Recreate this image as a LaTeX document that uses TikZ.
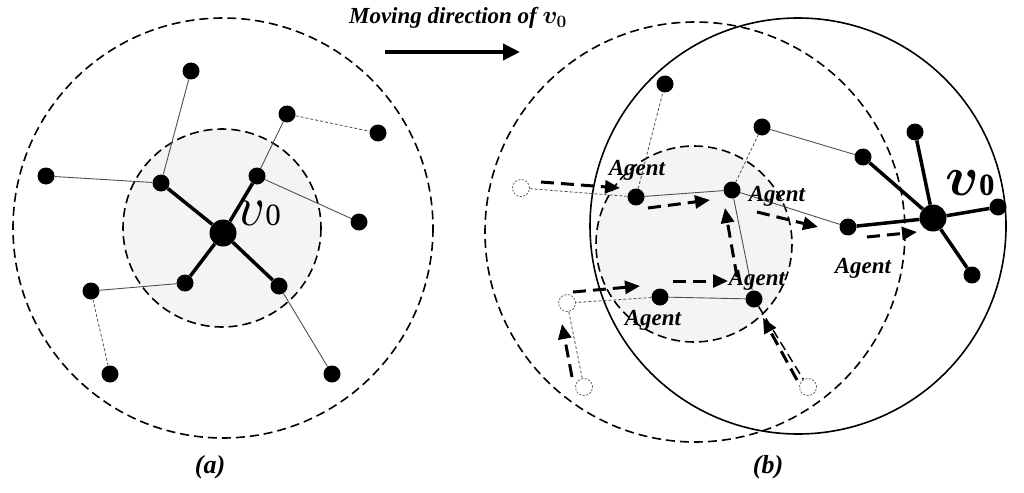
\documentclass[tikz,border=0pt]{standalone}
\usepackage{fontspec}
\setmainfont{Liberation Serif}
\usetikzlibrary{arrows.meta}
\definecolor{fillgray}{HTML}{F4F4F4}
\definecolor{edgegray}{HTML}{505050}
\begin{document}
\begin{tikzpicture}[x=1pt,y=-1pt,
  dot/.style={circle,fill=black,inner sep=0pt,minimum size=17pt},
  bigdot/.style={circle,fill=black,inner sep=0pt,minimum size=27pt},
  ghost/.style={circle,draw=edgegray,dash pattern=on 2pt off 1.5pt,line width=0.7pt,inner sep=0pt,minimum size=17pt,fill=white},
  thinedge/.style={draw=edgegray,line width=0.9pt},
  dashedge/.style={draw=edgegray,line width=0.8pt,dash pattern=on 3pt off 2pt},
  thickedge/.style={line width=3.5pt},
  rangecircle/.style={line width=1.6pt,dash pattern=on 9pt off 5pt},
  agentarrow/.style={line width=3pt,dash pattern=on 13pt off 7pt,-{Triangle[length=15pt,width=13pt]}},
  lbl/.style={font=\fontsize{23}{23}\selectfont\bfseries\itshape,inner sep=0pt},
]
\useasboundingbox (0,0) rectangle (1024,492);

% ---------- panel (a) ----------
\fill[fillgray] (222,228) circle[radius=99];
\draw[rangecircle] (222,228) circle[radius=99];
\draw[rangecircle] (223,228) circle[radius=210];

\node[bigdot] (ac) at (223,233) {};
\node[dot] (a1) at (191,71) {};
\node[dot] (a2) at (287,114) {};
\node[dot] (a3) at (378,133) {};
\node[dot] (a4) at (46,176) {};
\node[dot] (a5) at (161,183) {};
\node[dot] (a6) at (257,176) {};
\node[dot] (a7) at (359,222) {};
\node[dot] (a8) at (185,283) {};
\node[dot] (a9) at (279,286) {};
\node[dot] (a10) at (91,291) {};
\node[dot] (a11) at (110,374) {};
\node[dot] (a12) at (332,374) {};

\draw[thickedge] (ac) -- (a5);
\draw[thickedge] (ac) -- (a6);
\draw[thickedge] (ac) -- (a8);
\draw[thickedge] (ac) -- (a9);
\draw[thinedge] (a5) -- (a1);
\draw[thinedge] (a5) -- (a4);
\draw[thinedge] (a6) -- (a2);
\draw[thinedge] (a6) -- (a7);
\draw[dashedge] (a2) -- (a3);
\draw[thinedge] (a8) -- (a10);
\draw[dashedge] (a10) -- (a11);
\draw[thinedge] (a9) -- (a12);

\node[anchor=base west,inner sep=0pt] (va) at (236,225)
  {\scalebox{5.6}{$v$}\fontsize{31}{31}\selectfont 0};

% ---------- panel (b) ----------
\fill[fillgray] (694,244) circle[radius=98];
\draw[rangecircle] (694,244) circle[radius=98];
\draw[rangecircle] (695,232) circle[radius=210];
\draw[line width=1.6pt] (798,226) circle[radius=208];

\node[bigdot] (bc) at (933,218) {};
\node[dot] (b1) at (915,132) {};
\node[dot] (b2) at (863,157) {};
\node[dot] (b3) at (998,207) {};
\node[dot] (b4) at (972,275) {};
\node[dot] (b5) at (848,227) {};
\node[dot] (t1) at (665,84) {};
\node[dot] (t2) at (762,127) {};
\node[dot] (g1) at (636,197) {};
\node[dot] (g2) at (732,190) {};
\node[dot] (g3) at (660,297) {};
\node[dot] (g4) at (754,299) {};
\node[ghost] (h1) at (521,188) {};
\node[ghost] (h2) at (567,303) {};
\node[ghost] (h3) at (584,387) {};
\node[ghost] (h4) at (808,387) {};

\draw[thickedge] (bc) -- (b1);
\draw[thickedge] (bc) -- (b2);
\draw[thickedge] (bc) -- (b3);
\draw[thickedge] (bc) -- (b4);
\draw[thickedge] (bc) -- (b5);
\draw[thinedge] (g1) -- (g2);
\draw[thinedge] (g2) -- (b5);
\draw[thinedge] (t2) -- (b2);
\draw[thinedge] (g2) -- (g4);
\draw[thinedge] (g3) -- (g4);
\draw[dashedge] (g1) -- (t1);
\draw[dashedge] (g1) -- (h1);
\draw[dashedge] (g2) -- (t2);
\draw[dashedge] (g3) -- (h2);
\draw[dashedge] (h2) -- (h3);
\draw[line width=1.5pt,dash pattern=on 9pt off 5pt] (g4) -- (h4);

\coordinate (s1) at (541,182); \coordinate (e1) at (620,188);
\coordinate (s2) at (648,208); \coordinate (e2) at (710,200);
\coordinate (s3) at (757,212); \coordinate (e3) at (818,227);
\coordinate (s4) at (867,237); \coordinate (e4) at (917,232);
\coordinate (s5) at (737,277); \coordinate (e5) at (725,208);
\coordinate (s6) at (573,292); \coordinate (e6) at (640,286);
\coordinate (s7) at (673,281); \coordinate (e7) at (728,281);
\coordinate (s8) at (572,377); \coordinate (e8) at (562,324);
\coordinate (s9) at (797,380); \coordinate (e9) at (763,318);
\foreach \i in {1,...,9} {\draw[agentarrow] (s\i) -- (e\i);}

\node[lbl] (l1) at (637,170) {Agent};
\node[lbl] (l2) at (777,196) {Agent};
\node[lbl] (l3) at (757,280) {Agent};
\node[lbl] (l4) at (653,320) {Agent};
\node[lbl] (l5) at (863,268) {Agent};

\node[anchor=base west,inner sep=0pt] (vb) at (945,195)
  {\scalebox{5.6}{\boldmath$v$}\fontsize{31}{31}\selectfont\bfseries 0};

% ---------- title and captions ----------
\node[lbl] (title) at (458,18) {Moving direction of {\boldmath$v_{0}$}};
\coordinate (m1) at (385,52); \coordinate (m2) at (520,52);
\draw[line width=4pt,-{Triangle[length=17pt,width=16pt]}] (m1) -- (m2);

\node[font=\fontsize{26}{26}\selectfont\bfseries\itshape,inner sep=0pt] (capa) at (210,467) {(a)};
\node[font=\fontsize{26}{26}\selectfont\bfseries\itshape,inner sep=0pt] (capb) at (768,467) {(b)};
\end{tikzpicture}
\end{document}
